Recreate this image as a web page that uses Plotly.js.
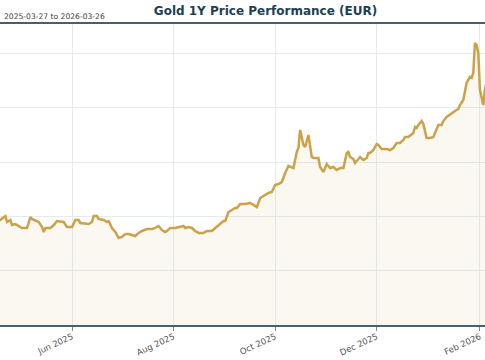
<!DOCTYPE html>
<html>
<head>
<meta charset="utf-8">
<script src="https://cdn.plot.ly/plotly-3.0.1.min.js"></script>
<style>html,body{margin:0;padding:0;background:#fff;}#chart{width:485px;height:360px;}</style>
</head>
<body>
<div id="chart"></div>
<script>
const dates = [
"2025-04-18","2025-04-22","2025-04-23","2025-04-25","2025-04-26","2025-04-28","2025-05-02","2025-05-05","2025-05-07","2025-05-08",
"2025-05-12","2025-05-14","2025-05-15","2025-05-16","2025-05-19","2025-05-21","2025-05-23","2025-05-27","2025-05-29","2025-06-01",
"2025-06-03","2025-06-05","2025-06-06","2025-06-09","2025-06-11","2025-06-13","2025-06-14","2025-06-16","2025-06-17","2025-06-20",
"2025-06-22","2025-06-23","2025-06-25","2025-06-27","2025-06-29","2025-07-01","2025-07-03","2025-07-05","2025-07-07","2025-07-09",
"2025-07-11","2025-07-13","2025-07-16","2025-07-19","2025-07-21","2025-07-23","2025-07-25","2025-07-27","2025-07-28","2025-07-30",
"2025-08-02","2025-08-05","2025-08-07","2025-08-08","2025-08-10","2025-08-12","2025-08-14","2025-08-16","2025-08-19","2025-08-21",
"2025-08-24","2025-08-26","2025-08-28","2025-08-31","2025-09-01","2025-09-03","2025-09-05","2025-09-07","2025-09-08","2025-09-10",
"2025-09-13","2025-09-16","2025-09-18","2025-09-20","2025-09-22","2025-09-25","2025-09-27","2025-09-29","2025-10-01","2025-10-03",
"2025-10-05","2025-10-07","2025-10-09","2025-10-12","2025-10-13","2025-10-14","2025-10-15","2025-10-16","2025-10-18","2025-10-19",
"2025-10-21","2025-10-23","2025-10-24","2025-10-27","2025-10-28","2025-10-30","2025-11-01","2025-11-03","2025-11-05","2025-11-07",
"2025-11-09","2025-11-11","2025-11-13","2025-11-14","2025-11-15","2025-11-17","2025-11-18","2025-11-20","2025-11-21","2025-11-23",
"2025-11-25","2025-11-26","2025-11-27","2025-11-29","2025-12-01","2025-12-02","2025-12-04","2025-12-07","2025-12-09","2025-12-11",
"2025-12-13","2025-12-15","2025-12-17","2025-12-18","2025-12-20","2025-12-23","2025-12-24","2025-12-25","2025-12-26","2025-12-28",
"2025-12-29","2025-12-31","2026-01-02","2026-01-04","2026-01-06","2026-01-07","2026-01-09","2026-01-10","2026-01-12","2026-01-15",
"2026-01-17","2026-01-19","2026-01-20","2026-01-22","2026-01-23","2026-01-24","2026-01-26","2026-01-27","2026-01-28","2026-01-29",
"2026-01-30","2026-01-31","2026-02-01","2026-02-02","2026-02-03","2026-02-04","2026-02-05"
];
const prices = [
2958,3004,2949,2967,2921,2930,2894,2894,2995,2977,
2949,2903,2857,2894,2894,2921,2958,2949,2903,2903,
2967,2967,2940,2930,2930,2949,3004,3004,2977,2967,
2949,2958,2894,2857,2802,2811,2838,2838,2829,2820,
2848,2866,2884,2884,2894,2912,2875,2857,2866,2894,
2894,2903,2912,2894,2903,2894,2866,2848,2848,2866,
2866,2894,2921,2958,2958,3041,3059,3078,3078,3115,
3115,3124,3106,3087,3170,3198,3216,3225,3290,3299,
3317,3400,3465,3446,3520,3594,3631,3797,3658,3640,
3750,3548,3539,3539,3456,3410,3483,3446,3456,3428,
3446,3446,3585,3594,3548,3529,3493,3529,3548,3520,
3539,3585,3585,3612,3668,3658,3621,3621,3612,3631,
3677,3677,3704,3732,3732,3769,3824,3815,3843,3879,
3852,3723,3723,3732,3797,3843,3843,3879,3916,3953,
3972,3990,4027,4073,4147,4230,4285,4276,4322,4598,
4580,4506,4165,4101,4027,4165,4240
];
const titleText = "Gold 1Y Price Performance (EUR)";
const subtitleText = "2025-03-27 to 2026-03-26";
const xRange = ["2025-04-18 18:00", "2026-02-04 01:00"];
const yRange = [2000, 4773];

const trace = {
  x: dates, y: prices, type: "scatter", mode: "lines",
  line: {color: "#c9a24a", width: 2.5},
  fill: "tozeroy", fillcolor: "rgba(201,162,74,0.08)",
  hoverinfo: "skip"
};
const layout = {
  width: 485, height: 360,
  margin: {l: 0, r: 0, t: 24, b: 35, pad: 0},
  paper_bgcolor: "#ffffff", plot_bgcolor: "#ffffff",
  showlegend: false,
  font: {family: "DejaVu Sans", color: "#444"},
  title: {text: titleText, font: {family: "DejaVu Sans", size: 12, color: "#1c4152", weight: "bold"},
          xref: "container", x: 265.5/485, xanchor: "center", yref: "container", y: 1 - 10.5/360, yanchor: "middle"},
  xaxis: {type: "date", range: xRange, tick0: "2025-06-01", dtick: "M2", tickformat: "%b %Y",
          tickangle: -25, tickfont: {size: 8.5, color: "#555"}, ticklabelstandoff: -2,
          showgrid: true, gridcolor: "#e4ecef", gridwidth: 1,
          showline: true, linecolor: "#46606f", linewidth: 1.6, mirror: true,
          ticks: "outside", ticklen: 4, tickcolor: "#888", zeroline: false},
  yaxis: {range: yRange, dtick: 500, tick0: 0, showticklabels: false, showgrid: true,
          gridcolor: "#e4ecef", gridwidth: 1, zeroline: false, showline: false, ticks: ""},
  annotations: [{text: subtitleText, xref: "paper", yref: "paper", x: 0.004, y: (325-17)/301,
                 xanchor: "left", yanchor: "middle", showarrow: false,
                 font: {family: "DejaVu Sans", size: 7.6, color: "#444"}}]
};
Plotly.newPlot("chart", [trace], layout, {staticPlot: true, displayModeBar: false});
</script>
</body>
</html>
